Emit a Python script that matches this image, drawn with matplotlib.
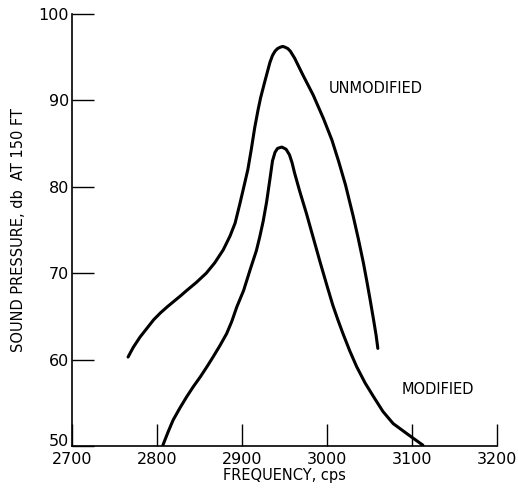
import matplotlib
matplotlib.use("Agg")
import matplotlib.pyplot as plt
from matplotlib.transforms import ScaledTranslation

plt.rcParams["font.family"] = ["DejaVu Sans"]

# values (frequency in cps, sound pressure in db)
unmod_freq = [2766, 2772, 2780, 2788, 2796, 2804, 2812, 2820, 2828, 2835,
              2846, 2858, 2868, 2878, 2886, 2892, 2898, 2903, 2907, 2911,
              2915, 2919, 2922, 2927, 2933, 2936, 2939, 2942, 2945, 2948,
              2951, 2954, 2957, 2962, 2972, 2984, 2996, 3006, 3014, 3022,
              3031, 3037, 3043, 3047, 3051, 3055, 3058, 3060]
unmod_db = [60.3, 61.4, 62.6, 63.6, 64.6, 65.4, 66.1, 66.75, 67.4, 68.0,
            68.9, 70.0, 71.2, 72.7, 74.3, 75.8, 78.2, 80.3, 82.0, 84.3,
            86.8, 88.9, 90.3, 92.2, 94.4, 95.2, 95.7, 96.0, 96.15, 96.25,
            96.15, 96.0, 95.7, 94.9, 92.9, 90.6, 87.9, 85.4, 82.9, 80.2,
            76.6, 74.0, 71.2, 69.1, 66.9, 64.6, 62.8, 61.3]

mod_freq = [2807, 2813, 2819, 2827, 2835, 2843, 2851, 2859, 2866, 2874,
            2882, 2888, 2894, 2902, 2910, 2917, 2921, 2925, 2929, 2933,
            2936, 2939, 2942, 2947, 2952, 2956, 2959, 2962, 2968, 2976,
            2984, 2992, 3000, 3007, 3013, 3019, 3027, 3035, 3045, 3055,
            3066, 3078, 3096, 3113]
mod_db = [50.1, 51.6, 53.0, 54.4, 55.7, 56.9, 58.0, 59.2, 60.3, 61.6,
          63.0, 64.4, 66.1, 68.0, 70.5, 72.6, 74.2, 76.0, 78.2, 80.9,
          83.0, 84.0, 84.45, 84.6, 84.35, 83.7, 82.8, 81.6, 79.5, 76.9,
          74.1, 71.3, 68.6, 66.3, 64.6, 63.0, 61.0, 59.2, 57.3, 55.7,
          54.0, 52.6, 51.3, 50.1]

x_ticks = [2700, 2800, 2900, 3000, 3100, 3200]
y_ticks = [50, 60, 70, 80, 90, 100]

fig = plt.figure(figsize=(5.18, 4.93), dpi=100)
ax = fig.add_axes([0.139, 0.0953, 0.82, 0.8763])

ax.plot(unmod_freq, unmod_db, color="black", linewidth=2.2,
        solid_capstyle="round", solid_joinstyle="round")
ax.plot(mod_freq, mod_db, color="black", linewidth=2.2,
        solid_capstyle="round", solid_joinstyle="round")

ax.text(3057, 91.4, "UNMODIFIED", ha="center", va="center", fontsize=10.5)
ax.text(3131, 56.5, "MODIFIED", ha="center", va="center", fontsize=10.5)

ax.set_xlim(2700, 3200)
ax.set_ylim(50, 100)
ax.set_xticks(x_ticks)
ax.set_yticks(y_ticks)
ax.tick_params(direction="in", length=15.5, width=1.0, labelsize=11.5)
ax.tick_params(axis="x", pad=4)
ax.tick_params(axis="y", pad=2)
for side in ("top", "right"):
    ax.spines[side].set_visible(False)
for side in ("left", "bottom"):
    ax.spines[side].set_linewidth(1.2)

# the bottom "50" sits a little higher in the original, clear of "2700"
ax.get_yticklabels()[0].set_transform(
    ax.get_yticklabels()[0].get_transform()
    + ScaledTranslation(0, 4 / 72, fig.dpi_scale_trans))

ax.set_xlabel("FREQUENCY, cps", fontsize=10.5, labelpad=1)
ax.set_ylabel("SOUND PRESSURE, db  AT 150 FT", fontsize=10.5, labelpad=9)

fig.savefig("out.png", dpi=100)
